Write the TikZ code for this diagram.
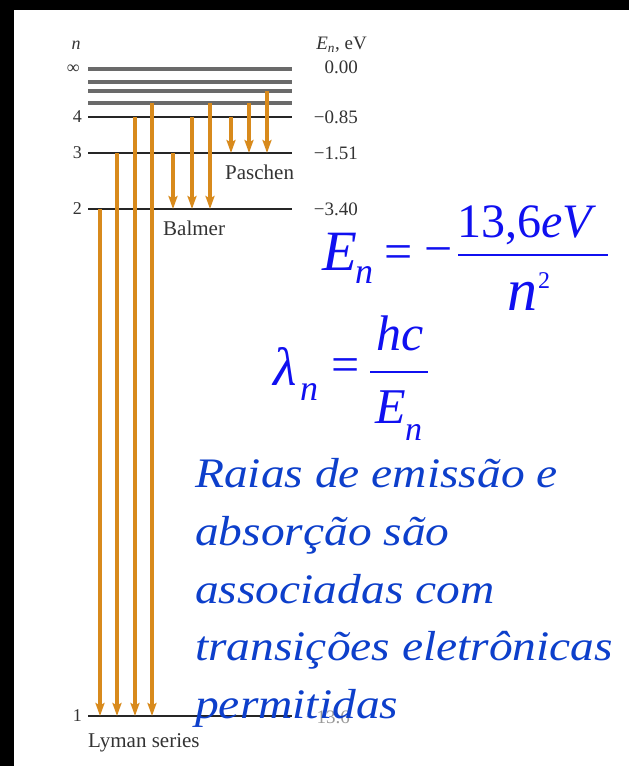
\documentclass[tikz,border=0pt]{standalone}
\usepackage{fontspec}
\setmainfont{Liberation Serif}
\usetikzlibrary{arrows.meta,calc}
\definecolor{Emit}{HTML}{D88A1C}
\definecolor{LevelGrey}{HTML}{6A6A6A}
\definecolor{LabelInk}{HTML}{333333}
\definecolor{EqBlue}{HTML}{1010F0}
\definecolor{TextBlue}{HTML}{0D3FCB}
\newcommand{\fsz}[1]{\fontsize{#1}{#1}\selectfont}
\tikzset{
  level/.style={line width=1.8pt, draw=black!85},
  upper/.style={line width=3.2pt, draw=LevelGrey},
  emit/.style={-{Stealth[length=13pt,width=9pt,inset=2.5pt]}, line width=3.4pt, draw=Emit},
  lbl/.style={inner sep=0pt, text=LabelInk, font=\fsz{18}},
  elbl/.style={lbl, anchor=east, font=\fsz{19}},
  series/.style={lbl, font=\fsz{21}, anchor=base west},
  eqn/.style={inner sep=0pt, text=EqBlue, anchor=base west},
  para/.style={inner sep=0pt, text=TextBlue, anchor=base west, font=\fsz{42}\itshape}
}
\begin{document}
\begin{tikzpicture}[x=1pt,y=-1pt]
\useasboundingbox (0,0) rectangle (629,766);
\fill[white] (0,0) rectangle (629,766);
\fill[black] (0,0) rectangle (629,10);
\fill[black] (0,0) rectangle (14,766);
% energy levels
\foreach \n/\y in {1/716,2/209,3/153,4/117,5/103,6/91,7/82,inf/69}
  \coordinate (L\n) at (88,\y);
\foreach \n in {1,2,3,4} \draw[level] (L\n) -- ++(204,0);
\foreach \n in {5,6,7,inf} \draw[upper] (L\n) -- ++(204,0);
% level labels
\node[lbl, font=\fsz{18}\itshape] (nhead) at (76,45) {n};
\node[lbl, anchor=east] (numinf) at ($(Linf)+(-8,0)$) {∞};
\foreach \n in {1,2,3,4} \node[lbl, anchor=east] (num\n) at ($(L\n)+(-6,0)$) {\n};
\node[elbl] (ehead) at (367,45) {\textit{E\textsubscript{n}}, eV};
\node[elbl] (einf) at (358,67) {0.00};
\foreach \n/\e in {4/−0.85,3/−1.51,2/−3.40} \node[elbl] (e\n) at ($(L\n)+(270,0)$) {\e};
\node[elbl, text=black!40] (e1) at ($(L1)+(262,1)$) {−13.6};
% transitions
\foreach \x/\a/\b in {100/2/1,117/3/1,135/4/1,152/5/1,173/3/2,192/4/2,210/5/2,231/4/3,249/5/3,267/6/3}
  \draw[emit] ($(L\a)+(\x-88,0)$) -- ($(L\b)+(\x-88,0)$);
\node[series] (paschen) at (225,179) {Paschen};
\node[series] (balmer) at (163,235) {Balmer};
\node[series] (lyman) at (88,747) {Lyman series};
% formulas
\node[eqn, font=\fsz{57}\itshape] (E1) at (322,270) {E};
\node[eqn, font=\fsz{36}\itshape] (E1n) at (355,283) {n};
\node[eqn, anchor=center, font=\fsz{50}] (eq1) at (399,257) {=};
\node[eqn, anchor=center, font=\fsz{50}] (mi1) at (439,257) {−};
\draw[EqBlue, line width=2pt] (458,255) -- (608,255);
\node[eqn, anchor=base, font=\fsz{48}] (num1) at (527,237) {13,6\textit{eV}};
\node[eqn, font=\fsz{60}\itshape] (den1) at (507,310) {n};
\node[eqn, font=\fsz{24}] (sq1) at (538,288) {2};
\node[eqn, font=\fsz{54}\itshape] (lam) at (273,385) {λ};
\node[eqn, font=\fsz{36}\itshape] (lamn) at (300,400) {n};
\node[eqn, anchor=center, font=\fsz{50}] (eq2) at (346,370) {=};
\draw[EqBlue, line width=2pt] (370,372) -- (428,372);
\node[eqn, anchor=base, font=\fsz{50}\itshape] (hc) at (400,350) {hc};
\node[eqn, font=\fsz{50}\itshape] (E2) at (375,423) {E};
\node[eqn, font=\fsz{34}\itshape] (E2n) at (405,440) {n};
% caption text
\foreach \ln/\y [count=\i] in {Raias de emissão e/487,absorção são/545,associadas com/603,transições eletrônicas/660,permitidas/718}
  \node[para] (line\i) at (195,\y) {\scalebox{1.13}[1]{\ln}};
\end{tikzpicture}
\end{document}
